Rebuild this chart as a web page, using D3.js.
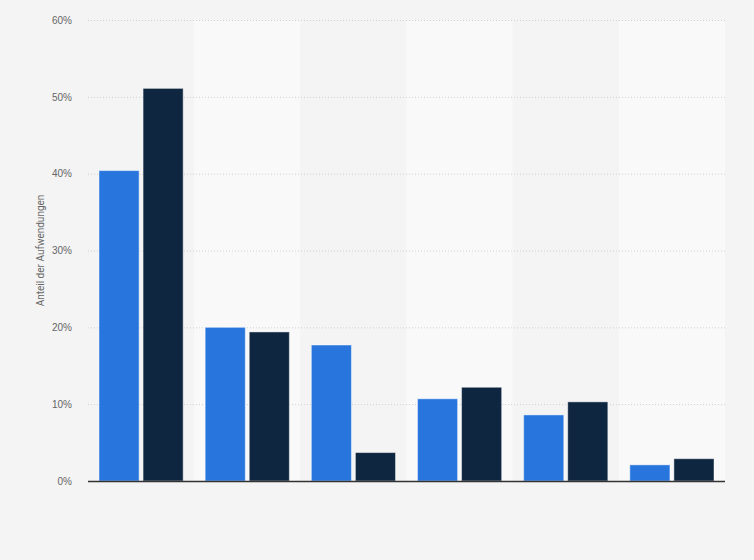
<!DOCTYPE html>
<html>
<head>
<meta charset="utf-8">
<script src="https://cdn.jsdelivr.net/npm/d3@7"></script>
<style>
  html, body { margin: 0; padding: 0; background: #f4f4f4; }
  svg { display: block; font-family: Roboto, "Open Sans", Arial, sans-serif; }
</style>
</head>
<body>
<svg id="chart"></svg>
<script>
// Kategorien (im Original ohne Beschriftung)
const categories = ['K1', 'K2', 'K3', 'K4', 'K5', 'K6'];
const seriesNames = ['Serie 1', 'Serie 2'];
// Werte in Prozent
const series1 = [40.4, 20.0, 17.7, 10.7, 8.6, 2.1];
const series2 = [51.1, 19.4, 3.7, 12.2, 10.3, 2.9];
const yTicks = [0, 10, 20, 30, 40, 50, 60];
const yLabel = 'Anteil der Aufwendungen';

const width = 754, height = 560;
const margin = { top: 20, right: 29, bottom: 79, left: 88 };
const chartWidth = width - margin.left - margin.right;
const chartHeight = height - margin.top - margin.bottom;
const colors = ['#2876dd', '#0f2640'];

const svg = d3.select('#chart')
  .attr('width', width)
  .attr('height', height);

svg.append('rect')
  .attr('width', width)
  .attr('height', height)
  .attr('fill', '#f4f4f4');

const chart = svg.append('g')
  .attr('transform', `translate(${margin.left},${margin.top})`);

const x0 = d3.scaleBand()
  .domain(categories)
  .range([0, chartWidth])
  .paddingInner(0)
  .paddingOuter(0);

const x1 = d3.scaleBand()
  .domain(seriesNames)
  .range([11, x0.bandwidth() - 11])
  .paddingInner(0.09)
  .paddingOuter(0);

const y = d3.scaleLinear()
  .domain([0, 60])
  .range([chartHeight, 0]);

// abwechselnde Spaltenhintergründe
chart.selectAll('.band')
  .data(categories)
  .join('rect')
  .attr('class', 'band')
  .attr('x', (d) => x0(d))
  .attr('y', 0)
  .attr('width', x0.bandwidth())
  .attr('height', chartHeight)
  .attr('fill', (d, i) => (i % 2 === 1 ? '#f9f9f9' : '#f4f4f4'));

// Gitterlinien
chart.selectAll('.grid')
  .data(yTicks.filter((t) => t > 0))
  .join('line')
  .attr('class', 'grid')
  .attr('x1', 0)
  .attr('x2', chartWidth)
  .attr('y1', (d) => y(d) + 0.5)
  .attr('y2', (d) => y(d) + 0.5)
  .attr('stroke', '#cfcfcf')
  .attr('stroke-width', 1)
  .attr('stroke-dasharray', '1,2');

// Y-Achse (nur Beschriftung)
const yAxis = chart.append('g')
  .call(d3.axisLeft(y).tickValues(yTicks).tickFormat((d) => d + '%').tickSize(0).tickPadding(16));
yAxis.select('.domain').remove();
yAxis.selectAll('text')
  .attr('fill', '#666')
  .style('font-size', '10px');

// Balken
const rows = categories.map((c, i) => ({ cat: c, values: [series1[i], series2[i]] }));

const groups = chart.selectAll('.group')
  .data(rows)
  .join('g')
  .attr('class', 'group')
  .attr('transform', (d) => `translate(${x0(d.cat)},0)`);

groups.selectAll('rect')
  .data((d) => d.values.map((v, j) => ({ key: seriesNames[j], value: v, idx: j })))
  .join('rect')
  .attr('x', (d) => x1(d.key))
  .attr('y', (d) => y(d.value))
  .attr('width', x1.bandwidth())
  .attr('height', (d) => chartHeight - y(d.value))
  .attr('fill', (d) => colors[d.idx])
  .attr('stroke', '#ffffff')
  .attr('stroke-opacity', 0.45)
  .attr('stroke-width', 1);

// X-Achse (Grundlinie ohne Beschriftung)
chart.append('line')
  .attr('x1', 0)
  .attr('x2', chartWidth)
  .attr('y1', chartHeight + 0.5)
  .attr('y2', chartHeight + 0.5)
  .attr('stroke', '#333')
  .attr('stroke-width', 1.3);

// Y-Achsentitel
svg.append('text')
  .attr('transform', `translate(44,${margin.top + chartHeight / 2}) rotate(-90)`)
  .attr('text-anchor', 'middle')
  .attr('fill', '#666')
  .style('font-size', '10px')
  .text(yLabel);
</script>
</body>
</html>
